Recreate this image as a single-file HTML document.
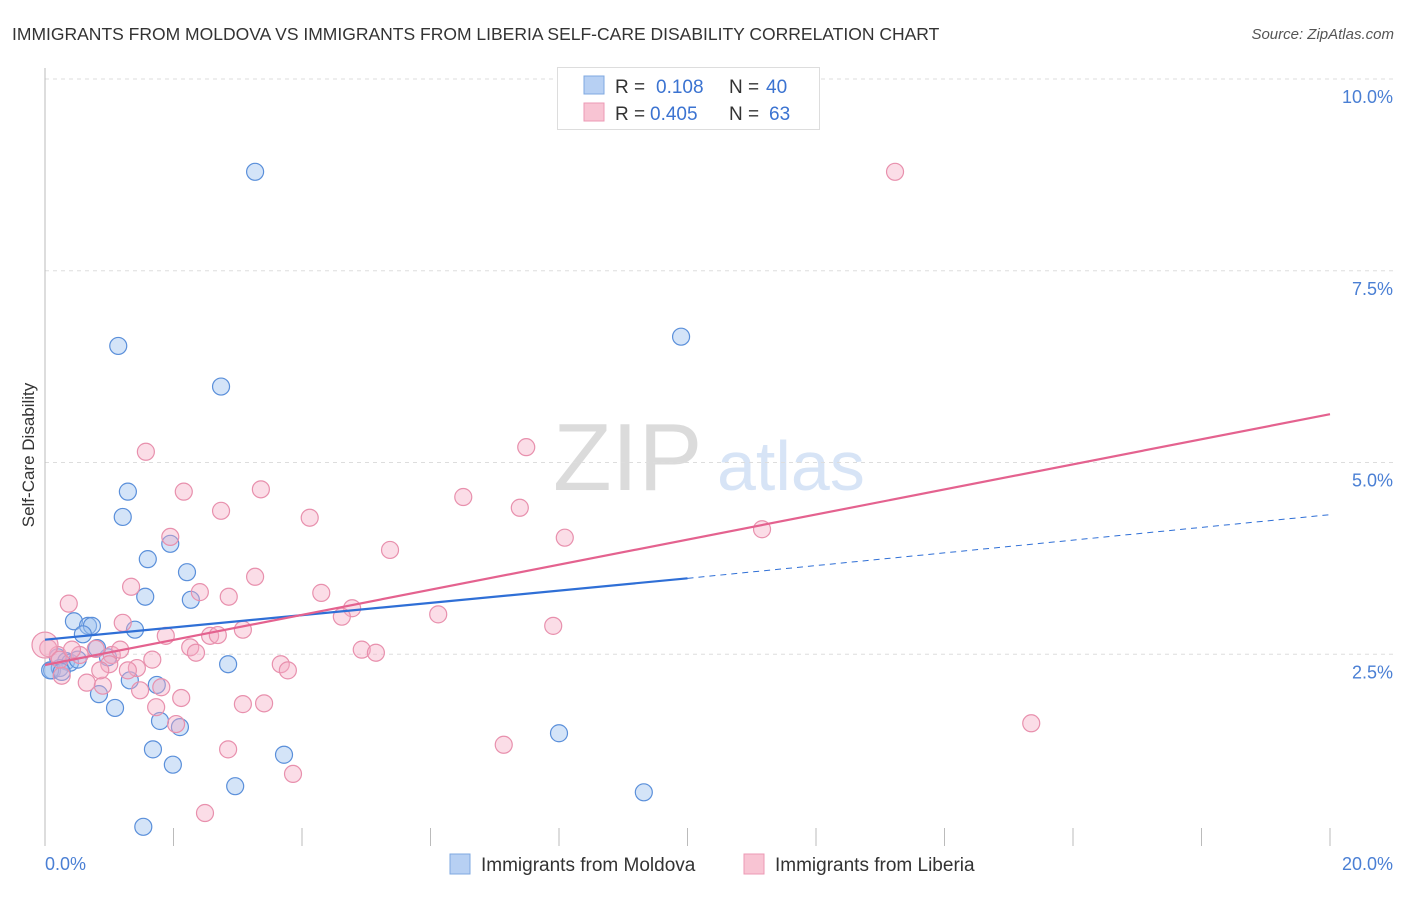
<!DOCTYPE html>
<html><head><meta charset="utf-8"><style>
body{margin:0;background:#fff;font-family:"Liberation Sans",sans-serif;}
svg text{font-family:"Liberation Sans",sans-serif;}
</style></head><body>
<svg id="chart" width="1406" height="892">
<text x="12" y="40" font-size="17.5" fill="#333">IMMIGRANTS FROM MOLDOVA VS IMMIGRANTS FROM LIBERIA SELF-CARE DISABILITY CORRELATION CHART</text>
<text x="1394" y="39" font-size="15" fill="#555" font-style="italic" text-anchor="end">Source: ZipAtlas.com</text>
<g opacity="0.35">
<text x="553" y="490" font-family="Liberation Serif" font-size="96" fill="#999">ZIP</text>
<text x="717" y="490" font-size="70" fill="#8fb4e8">atlas</text>
</g>
<g id="grid"></g>
<g id="marks"></g>
<text transform="translate(34,455) rotate(-90)" font-size="17" fill="#333" text-anchor="middle">Self-Care Disability</text>
<text x="45" y="870" font-size="18" fill="#4a7fd4">0.0%</text>
<text x="1393" y="870" font-size="18" fill="#4a7fd4" text-anchor="end">20.0%</text>
<g>
<rect x="557.5" y="67.5" width="262" height="62" fill="#fff" stroke="#ddd"/>
<rect x="584" y="76" width="20" height="18" fill="#b7d0f3" stroke="#7fa8e0"/>
<rect x="584" y="103" width="20" height="18" fill="#f8c4d3" stroke="#ec9ab4"/>
<text x="615" y="93" font-size="19" fill="#333">R = </text><text x="656" y="93" font-size="19" fill="#3b73d1">0.108</text>
<text x="729" y="93" font-size="19" fill="#333">N = </text><text x="766" y="93" font-size="19" fill="#3b73d1">40</text>
<text x="615" y="120" font-size="19" fill="#333">R = </text><text x="650" y="120" font-size="19" fill="#3b73d1">0.405</text>
<text x="729" y="120" font-size="19" fill="#333">N = </text><text x="769" y="120" font-size="19" fill="#3b73d1">63</text>
</g>
<g>
<rect x="450" y="854" width="20" height="20" fill="#b7d0f3" stroke="#7fa8e0"/>
<text x="481" y="871" font-size="19" fill="#333">Immigrants from Moldova</text>
<rect x="744" y="854" width="20" height="20" fill="#f8c4d3" stroke="#ec9ab4"/>
<text x="775" y="871" font-size="19" fill="#333">Immigrants from Liberia</text>
</g>
</svg>
<script>
const yTicks=[2.5,5.0,7.5,10.0];
const yTickLabels=["2.5%","5.0%","7.5%","10.0%"];
const xTicks=[0,2,4,6,8,10,12,14,16,18,20];
const moldovaX=[3.27,1.14,2.74,9.90,1.29,1.21,1.60,1.95,2.21,1.56,2.27,0.45,0.67,0.73,0.59,1.40,0.20,0.33,0.39,0.98,0.81,0.11,0.23,0.84,1.09,1.32,1.74,1.79,2.10,1.68,1.99,2.85,3.72,2.96,1.53,8.00,9.32,0.08,0.26,0.51];
const moldovaY=[8.79,6.52,5.99,6.64,4.62,4.29,3.74,3.94,3.57,3.25,3.21,2.93,2.87,2.87,2.76,2.82,2.46,2.41,2.39,2.46,2.58,2.29,2.32,1.98,1.80,2.16,2.10,1.63,1.55,1.26,1.06,2.37,1.19,0.78,0.25,1.47,0.70,2.29,2.27,2.43];
const liberiaX=[13.23,1.57,7.49,2.16,3.36,6.51,2.74,4.12,7.39,5.37,8.09,11.16,1.95,0.37,1.34,3.27,2.41,2.86,4.30,4.78,4.62,6.12,7.91,1.21,1.88,3.08,2.57,2.69,2.26,2.35,4.93,5.15,0.79,1.04,0.54,0.20,0.05,1.67,1.43,1.00,3.67,3.78,0.26,0.65,0.90,1.29,1.48,1.81,2.12,1.73,3.08,3.41,2.04,2.85,3.86,2.49,7.14,15.35,0.00,0.23,0.42,0.86,1.17];
const liberiaY=[8.79,5.14,5.20,4.62,4.65,4.55,4.37,4.28,4.41,3.86,4.02,4.13,4.03,3.16,3.38,3.51,3.31,3.25,3.30,3.10,2.99,3.02,2.87,2.91,2.74,2.82,2.74,2.75,2.59,2.52,2.56,2.52,2.57,2.49,2.49,2.49,2.58,2.43,2.32,2.37,2.37,2.29,2.22,2.13,2.09,2.29,2.03,2.07,1.93,1.81,1.85,1.86,1.59,1.26,0.94,0.43,1.32,1.60,2.62,2.43,2.56,2.29,2.56];
const moldovaTrend=[2.69,3.49,4.32]; // at x=0,10,20
const liberiaTrend=[2.36,5.63]; // at x=0,20
const X0=45,X1=1330,Y0=846,YT=79;
const sx=v=>X0+(v/20)*(X1-X0);
const sy=v=>Y0-(v/10)*(Y0-YT);
const NS='http://www.w3.org/2000/svg';
function mk(tag,attrs,parent){const e=document.createElementNS(NS,tag);for(const k in attrs)e.setAttribute(k,attrs[k]);parent.appendChild(e);return e;}
const grid=document.getElementById('grid'),marks=document.getElementById('marks');
yTicks.forEach((t,i)=>{
 const l=mk('line',{x1:X0,x2:1394,y1:sy(t),y2:sy(t),stroke:'#ddd','stroke-dasharray':'4,4'},grid);
 
 
 const tx=mk('text',{x:1393,y:sy(t)+24,'font-size':18,fill:'#4a7fd4','text-anchor':'end'},grid);
 tx.textContent=yTickLabels[i];
 
 
});
const ax=mk('line',{x1:X0,x2:X0,y1:68,y2:Y0,stroke:'#bbb'},grid);


xTicks.forEach(t=>{
 const l=mk('line',{x1:sx(t),x2:sx(t),y1:Y0,y2:828,stroke:'#bbb'},grid);
 
 
});
moldovaX.forEach((x,i)=>{
 const c=mk('circle',{cx:sx(x),cy:sy(moldovaY[i]),r:8.5,fill:'rgba(160,195,240,0.45)',stroke:'#5a8fda','stroke-width':1.2},marks);
 
 
});
liberiaX.forEach((x,i)=>{
 const c=mk('circle',{cx:sx(x),cy:sy(liberiaY[i]),r:i===58?13:8.5,fill:'rgba(245,170,195,0.4)',stroke:'#e890ad','stroke-width':1.2},marks);
 
 
});
const b1=mk('line',{x1:sx(0),y1:sy(moldovaTrend[0]),x2:sx(10),y2:sy(moldovaTrend[1]),stroke:'#2f6fd6','stroke-width':2.2},marks);


const b2=mk('line',{x1:sx(10),y1:sy(moldovaTrend[1]),x2:sx(20),y2:sy(moldovaTrend[2]),stroke:'#2f6fd6','stroke-width':1,'stroke-dasharray':'6,5'},marks);


const p1=mk('line',{x1:sx(0),y1:sy(liberiaTrend[0]),x2:sx(20),y2:sy(liberiaTrend[1]),stroke:'#e4628f','stroke-width':2.2},marks);


</script>
</body></html>
